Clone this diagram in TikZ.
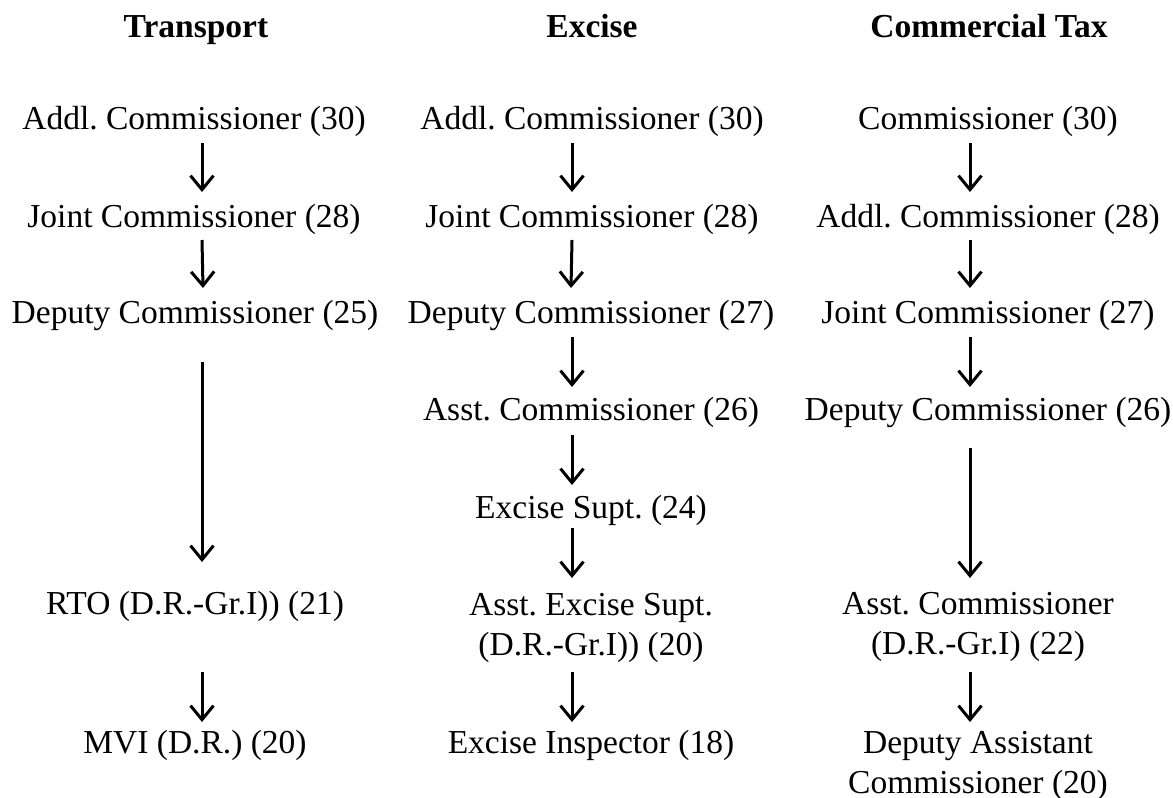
\documentclass[tikz,border=0pt]{standalone}
\usepackage{fontspec}
\setmainfont{Liberation Serif}
\usetikzlibrary{arrows.meta,calc}

\tikzset{
  post/.style={anchor=base, align=center, inner sep=0pt,
    font=\fontsize{33.5}{40}\selectfont\frenchspacing},
  head/.style={post, font=\fontsize{33.5}{40}\selectfont\bfseries},
  arr/.style={line width=3pt,
    -{Straight Barb[length=14pt,width=23pt,line width=3pt]}}
}

\begin{document}
\begin{tikzpicture}[x=1pt,y=-1pt]
\useasboundingbox (0,0) rectangle (1173,798);

% column headings
\node[head] (hT) at (196,37) {Transport};
\node[head] (hE) at (592,37) {Excise};
\node[head] (hC) at (989,37) {Commercial Tax};

% Transport (base = baseline of the last line)
\node[post] (t1) at (194,129) {Addl. Commissioner (30)};
\node[post] (t2) at (194,227) {Joint Commissioner (28)};
\node[post] (t3) at (195,323) {Deputy Commissioner (25)};
\node[post] (t4) at (195,614) {RTO (D.R.-Gr.I)) (21)};
\node[post] (t5) at (195,753) {MVI (D.R.) (20)};

% Excise
\node[post] (e1) at (592,129) {Addl. Commissioner (30)};
\node[post] (e2) at (592,227) {Joint Commissioner (28)};
\node[post] (e3) at (591,323) {Deputy Commissioner (27)};
\node[post] (e4) at (591,420) {Asst. Commissioner (26)};
\node[post] (e5) at (591,518) {Excise Supt. (24)};
\node[post] (e6) at (591,655) {Asst. Excise Supt.\\(D.R.-Gr.I)) (20)};
\node[post] (e7) at (591,753) {Excise Inspector (18)};

% Commercial Tax
\node[post] (c1) at (988,129) {Commissioner (30)};
\node[post] (c2) at (988,227) {Addl. Commissioner (28)};
\node[post] (c3) at (988,323) {Joint Commissioner (27)};
\node[post] (c4) at (988,420) {Deputy Commissioner (26)};
\node[post] (c5) at (978,654) {Asst. Commissioner\\(D.R.-Gr.I) (22)};
\node[post] (c6) at (978,793) {Deputy Assistant\\Commissioner (20)};

% Transport arrows
\draw[arr] ($(t1.base)+(8,14)$) -- ($(t2.base)+(8,-35)$);
\draw[arr] ($(t2.base)+(8,13)$) -- ($(t3.base)+(8,-35)$);
\draw[arr] ($(t3.base)+(7,39)$) -- ($(t4.base)+(7,-52)$);
\draw[arr] ($(t4.base)+(7,58)$) -- ($(t5.base)+(7,-31)$);

% Excise arrows
\draw[arr] ($(e1.base)+(-20,14)$) -- ($(e2.base)+(-20,-35)$);
\draw[arr] ($(e2.base)+(-20,13)$) -- ($(e3.base)+(-20,-35)$);
\draw[arr] ($(e3.base)+(-19,14)$) -- ($(e4.base)+(-19,-33)$);
\draw[arr] ($(e4.base)+(-19,15)$) -- ($(e5.base)+(-19,-33)$);
\draw[arr] ($(e5.base)+(-19,10)$) -- ($(e6.base)+(-19,-77)$);
\draw[arr] ($(e6.base)+(-19,17)$) -- ($(e7.base)+(-19,-31)$);

% Commercial Tax arrows
\draw[arr] ($(c1.base)+(-18,14)$) -- ($(c2.base)+(-18,-35)$);
\draw[arr] ($(c2.base)+(-18,13)$) -- ($(c3.base)+(-18,-35)$);
\draw[arr] ($(c3.base)+(-18,14)$) -- ($(c4.base)+(-18,-33)$);
\draw[arr] ($(c4.base)+(-18,28)$) -- ($(c5.base)+(-8,-76)$);
\draw[arr] ($(c5.base)+(-8,18)$) -- ($(c6.base)+(-8,-71)$);
\end{tikzpicture}
\end{document}
